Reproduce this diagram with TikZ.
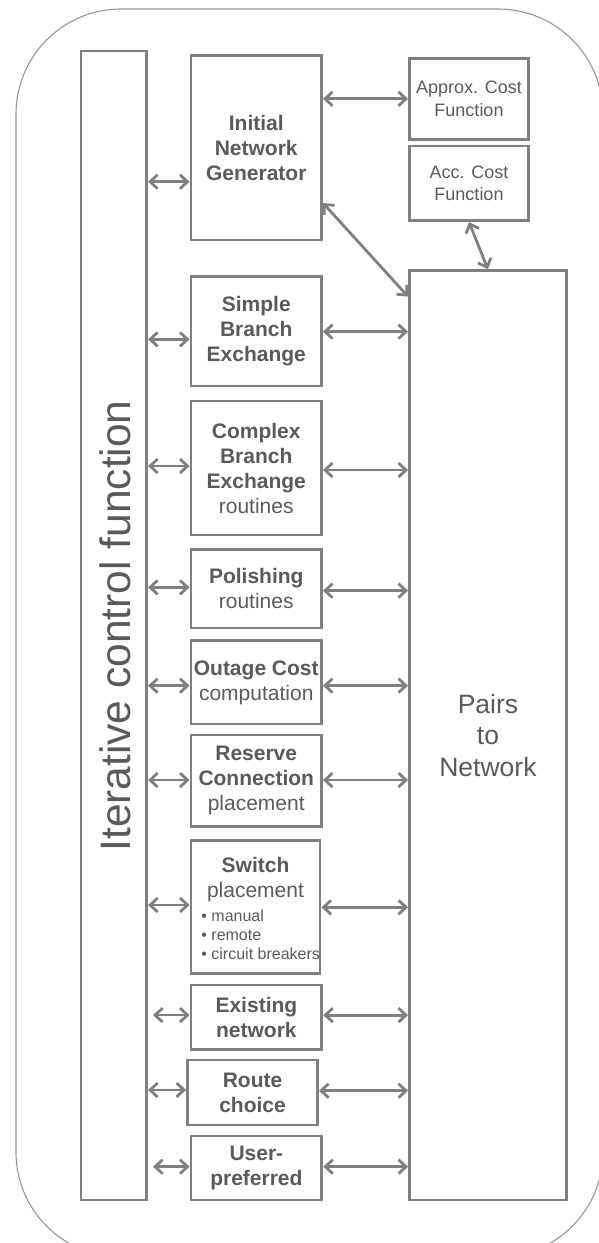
\documentclass[tikz,border=0pt]{standalone}
\usepackage{fontspec}
\setmainfont{Liberation Sans}
\usetikzlibrary{arrows.meta,calc}
\definecolor{bord}{RGB}{128,128,128}
\definecolor{txt}{RGB}{90,90,90}
\definecolor{outerc}{RGB}{150,150,150}
\begin{document}
\begin{tikzpicture}[x=1pt,y=-1pt,
  box/.style={draw=bord, line width=2.9pt, inner sep=0pt, text=txt, align=center,
              font=\fontsize{21}{25}\selectfont},
  txtnode/.style={inner sep=0pt, text=txt},
  arr/.style={draw=bord, line width=2.8pt,
              {Straight Barb[length=7.5pt,width=14pt,line width=2.8pt]}-{Straight Barb[length=7.5pt,width=14pt,line width=2.8pt]}},
]
\useasboundingbox (0,0) rectangle (599,1243);
\begin{scope}
\clip (0,0) rectangle (599,1243);
\draw[outerc, line width=1.1pt, rounded corners=105pt] (16,9) rectangle (603,1257);
\end{scope}

% left control column
\node[box, minimum width=65.6pt, minimum height=1149pt] (L) at (113.8,625.5) {};
\node[txtnode, rotate=90, anchor=base, font=\fontsize{42.5}{50}\selectfont] (ictxt) at (130.7,626) {Iterative control function};

% right column
\node[box, minimum width=156.9pt, minimum height=929.3pt, font=\fontsize{26.5}{31.5}\selectfont] (pairs) at (487.95,735.35) {Pairs\\to\\Network};
\node[box, minimum width=119pt, minimum height=81pt, font=\fontsize{18}{22.4}\selectfont] (approx) at (469,98.8) {Approx. Cost\\Function};
\node[box, minimum width=119pt, minimum height=74.7pt, font=\fontsize{18}{22.4}\selectfont] (acc) at (469,183.35) {Acc. Cost\\Function};

% middle column
\node[box, minimum width=130.5pt, minimum height=184.3pt] (int) at (256.25,147.85) {\textbf{Initial}\\\textbf{Network}\\\textbf{Generator}};
\node[box, minimum width=130.5pt, minimum height=109.3pt] (sim) at (256.25,331.35) {\textbf{Simple}\\\textbf{Branch}\\\textbf{Exchange}};
\node[box, minimum width=130.5pt, minimum height=134pt] (cpx) at (256.25,468) {\textbf{Complex}\\\textbf{Branch}\\\textbf{Exchange}\\routines};
\node[box, minimum width=130.5pt, minimum height=78.7pt] (pol) at (256.25,588.65) {\textbf{Polishing}\\routines};
\node[box, minimum width=130.5pt, minimum height=83.3pt] (out) at (256.25,682.35) {\textbf{Outage Cost}\\computation};
\node[box, minimum width=130.5pt, minimum height=91.7pt] (res) at (256.25,780.85) {\textbf{Reserve}\\\textbf{Connection}\\placement};
\node[box, minimum width=129pt, minimum height=132.6pt] (sw) at (255.5,907) {};
\node[txtnode, align=center, font=\fontsize{21}{25}\selectfont] (swt) at (255.5,879.2) {\textbf{Switch}\\placement};
\node[txtnode, align=left, anchor=west, font=\fontsize{16}{19}\selectfont] (swl) at (201.2,934.5) {• manual\\• remote\\• circuit breakers};
\node[box, minimum width=130.8pt, minimum height=64.3pt] (ex) at (256.4,1017.15) {\textbf{Existing}\\\textbf{network}};
\node[box, minimum width=130.1pt, minimum height=65pt] (rt) at (252.55,1092.5) {\textbf{Route}\\\textbf{choice}};
\node[box, minimum width=130.8pt, minimum height=64pt] (usr) at (256.4,1168) {\textbf{User-}\\\textbf{preferred}};

% left arrows
\draw[arr] ($(L.east |- int.west)+(0,33.85)$) -- ($(int.west)+(0,33.85)$);
\draw[arr] ($(L.east |- sim.west)+(0,8)$) -- ($(sim.west)+(0,8)$);
\draw[arr] ($(L.east |- cpx.west)+(0,-2)$) -- ($(cpx.west)+(0,-2)$);
\draw[arr] ($(L.east |- pol.west)+(0,-1.3)$) -- ($(pol.west)+(0,-1.3)$);
\draw[arr] ($(L.east |- out.west)+(0,3.3)$) -- ($(out.west)+(0,3.3)$);
\draw[arr] ($(L.east |- res.west)+(0,-0.8)$) -- ($(res.west)+(0,-0.8)$);
\draw[arr] ($(L.east |- sw.west)+(0,-2)$) -- ($(sw.west)+(0,-2)$);
\draw[arr, shorten <=5pt] ($(L.east |- ex.west)+(0,-2.1)$) -- ($(ex.west)+(0,-2.1)$);
\draw[arr] ($(L.east |- rt.west)+(0,-2.5)$) -- ($(rt.west)+(0,-2.5)$);
\draw[arr, shorten <=5pt] ($(L.east |- usr.west)+(0,-1.3)$) -- ($(usr.west)+(0,-1.3)$);

% right arrows
\draw[arr] (int.east |- approx.west) -- (approx.west);
\draw[arr] ($(int.east)+(0,55.15)$) -- ($(pairs.north west)+(0,27.3)$);
\draw[arr] (acc.south) -- (pairs.north);
\draw[arr] ($(sim.east)+(0,0.3)$) -- ($(pairs.west |- sim.east)+(0,0.3)$);
\draw[arr] ($(cpx.east)+(0,2)$) -- ($(pairs.west |- cpx.east)+(0,2)$);
\draw[arr] ($(pol.east)+(0,2)$) -- ($(pairs.west |- pol.east)+(0,2)$);
\draw[arr] ($(out.east)+(0,3.3)$) -- ($(pairs.west |- out.east)+(0,3.3)$);
\draw[arr] ($(res.east)+(0,-0.8)$) -- ($(pairs.west |- res.east)+(0,-0.8)$);
\draw[arr] ($(sw.east)+(0,0.3)$) -- ($(pairs.west |- sw.east)+(0,0.3)$);
\draw[arr] ($(ex.east)+(0,-2)$) -- ($(pairs.west |- ex.east)+(0,-2)$);
\draw[arr] ($(rt.east)+(0,-1.8)$) -- ($(pairs.west |- rt.east)+(0,-1.8)$);
\draw[arr] ($(usr.east)+(0,-1.3)$) -- ($(pairs.west |- usr.east)+(0,-1.3)$);
\end{tikzpicture}
\end{document}
